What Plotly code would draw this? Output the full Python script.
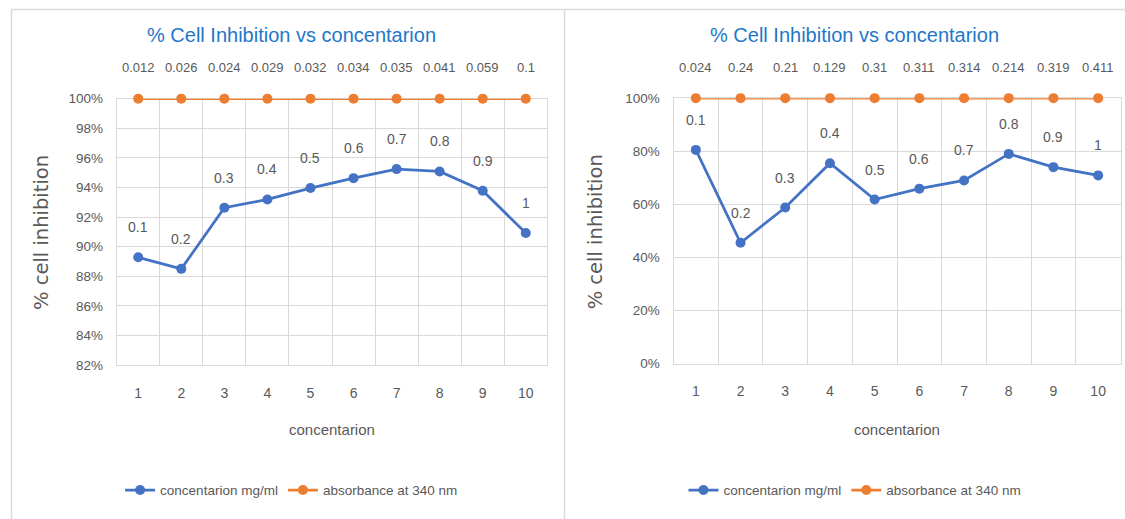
import plotly.graph_objects as go

W = 1125
# observed page mapping: picture_y = OFF + SCALE * figure_y
OFF = 7.5
SCALE = 0.97
H = 528

# ---------------- data ----------------
categories = [1, 2, 3, 4, 5, 6, 7, 8, 9, 10]
conc_labels = ["0.1", "0.2", "0.3", "0.4", "0.5", "0.6", "0.7", "0.8", "0.9", "1"]

left_inhibition = [89.28, 88.5, 92.63, 93.19, 93.96, 94.63, 95.24, 95.08, 93.78, 90.92]
left_absorbance = [100, 100, 100, 100, 100, 100, 100, 100, 100, 100]
left_abs_labels = ["0.012", "0.026", "0.024", "0.029", "0.032", "0.034", "0.035", "0.041", "0.059", "0.1"]

right_inhibition = [80.5, 45.5, 58.8, 75.5, 61.8, 65.9, 69.0, 79.0, 74.0, 70.9]
right_absorbance = [100, 100, 100, 100, 100, 100, 100, 100, 100, 100]
right_abs_labels = ["0.024", "0.24", "0.21", "0.129", "0.31", "0.311", "0.314", "0.214", "0.319", "0.411"]

title_text = "% Cell Inhibition vs concentarion"
y_title = "% cell inhibition"
x_title = "concentarion"
series_blue = "concentarion mg/ml"
series_orange = "absorbance at 340 nm"

# ---------------- style ----------------
BLUE = "#4472C4"
ORANGE = "#ED7D31"
GRID = "#D9D9D9"
TXT = "#595959"
TITLE_C = "#1F77C9"
FONT = "Liberation Sans Narrow, Liberation Sans, Arial, sans-serif"


def px(x):
    return x / W


def py(y):
    return 1 - ((y - OFF) / SCALE) / H


fig = go.Figure()

panels = [
    dict(xa="x", ya="y", leg="legend", inh=left_inhibition, ab=left_absorbance, ablab=left_abs_labels),
    dict(xa="x2", ya="y2", leg="legend2", inh=right_inhibition, ab=right_absorbance, ablab=right_abs_labels),
]

annotations = []
for p in panels:
    fig.add_trace(go.Scatter(
        x=categories, y=p["inh"], name=series_blue, mode="lines+markers",
        line=dict(color=BLUE, width=2.75), marker=dict(color=BLUE, size=10),
        xaxis=p["xa"], yaxis=p["ya"], legend=p["leg"], cliponaxis=False,
    ))
    fig.add_trace(go.Scatter(
        x=categories, y=p["ab"], name=series_orange, mode="lines+markers",
        line=dict(color=ORANGE, width=2.75), marker=dict(color=ORANGE, size=10),
        xaxis=p["xa"], yaxis=p["ya"], legend=p["leg"], cliponaxis=False,
    ))
    for c, v, t in zip(categories, p["inh"], conc_labels):
        annotations.append(dict(x=c, y=v, xref=p["xa"], yref=p["ya"], text=t, showarrow=False,
                                yshift=30, yanchor="middle", font=dict(family=FONT, size=14, color=TXT)))
    for c, v, t in zip(categories, p["ab"], p["ablab"]):
        annotations.append(dict(x=c, y=v, xref=p["xa"], yref=p["ya"], text=t, showarrow=False,
                                yshift=31, yanchor="middle", font=dict(family=FONT, size=13, color=TXT)))

# titles and axis titles (paper positioned)
for cx, ytx, xtx in [(291, 41.7, 332), (854, 595, 897)]:
    annotations.append(dict(x=px(cx), y=py(35), xref="paper", yref="paper", text=title_text,
                            showarrow=False, xanchor="center", yanchor="middle",
                            font=dict(family=FONT, size=20, color=TITLE_C)))
    annotations.append(dict(x=px(ytx), y=py(232.5), xref="paper", yref="paper", text=y_title,
                            showarrow=False, textangle=-90, xanchor="center", yanchor="middle",
                            font=dict(family="DejaVu Sans", size=19.5, color=TXT)))
    annotations.append(dict(x=px(xtx), y=py(429), xref="paper", yref="paper", text=x_title,
                            showarrow=False, xanchor="center", yanchor="middle",
                            font=dict(family=FONT, size=15, color=TXT)))

bounds = [c - 0.5 for c in categories] + [categories[-1] + 0.5]


def xaxis(domain, anchor):
    return dict(domain=domain, anchor=anchor, range=[0.5, 10.5], tickmode="array",
                tickvals=categories, showgrid=False, zeroline=False,
                showline=True, mirror=True, linecolor=GRID, linewidth=1, layer="below traces",
                ticks="", ticklabelstandoff=15,
                tickfont=dict(family=FONT, size=14, color=TXT),
                minor=dict(tickmode="array", tickvals=bounds, showgrid=True,
                           gridcolor=GRID, gridwidth=1, ticks=""))


def yaxis(domain, anchor, rng, dtick):
    return dict(domain=domain, anchor=anchor, range=rng, dtick=dtick, tick0=0,
                ticksuffix="%", showgrid=True, gridcolor=GRID, gridwidth=1, zeroline=False,
                showline=True, mirror=True, linecolor=GRID, linewidth=1, layer="below traces",
                ticks="", ticklabelstandoff=10,
                tickfont=dict(family=FONT, size=13.5, color=TXT))


legend_common = dict(orientation="h", xanchor="center", yanchor="middle", y=py(490),
                     font=dict(family=FONT, size=13.5, color=TXT), bgcolor="rgba(0,0,0,0)",
                     itemwidth=30, tracegroupgap=0)

shapes = [
    dict(type="line", xref="paper", yref="paper", x0=px(11.5), x1=px(1125), y0=py(10), y1=py(10),
         line=dict(color=GRID, width=1.5)),
    dict(type="line", xref="paper", yref="paper", x0=px(11.5), x1=px(11.5), y0=py(10), y1=0,
         line=dict(color=GRID, width=1.5)),
    dict(type="line", xref="paper", yref="paper", x0=px(564.5), x1=px(564.5), y0=py(10), y1=0,
         line=dict(color=GRID, width=1.5)),
]

fig.update_layout(
    width=W, height=H, margin=dict(l=0, r=0, t=0, b=0),
    paper_bgcolor="white", plot_bgcolor="white",
    xaxis=xaxis([px(116.7), px(547.3)], "y"),
    yaxis=yaxis([py(365), py(99)], "x", [82, 100], 2),
    xaxis2=xaxis([px(673.5), px(1120.5)], "y2"),
    yaxis2=yaxis([py(363.5), py(98.5)], "x2", [0, 100], 20),
    legend=dict(x=px(291.6), **legend_common),
    legend2=dict(x=px(855), **legend_common),
    annotations=annotations, shapes=shapes, showlegend=True,
)

fig.write_html(
    "out.html",
    config={"displayModeBar": False},
    post_script="document.body.style.margin='0';document.body.style.padding='0';"
                "document.documentElement.style.overflow='hidden';",
)
